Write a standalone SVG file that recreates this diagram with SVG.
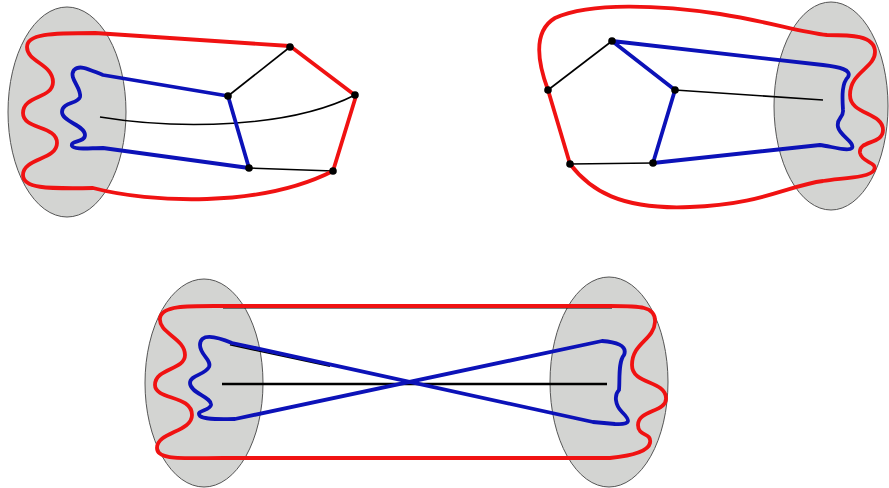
<svg xmlns="http://www.w3.org/2000/svg" width="889" height="488" viewBox="0 0 889 488">
<style>
.disk{fill:#d3d4d2;stroke:#555;stroke-width:1}
.red{fill:none;stroke:#f01212;stroke-width:3.8;stroke-linejoin:round;stroke-linecap:round}
.blue{fill:none;stroke:#0c12b8;stroke-width:3.8;stroke-linejoin:round;stroke-linecap:round}
.blk{fill:none;stroke:#000;stroke-width:1.6}
.blk2{fill:none;stroke:#000;stroke-width:2.6}
.dot{fill:#000}
</style>
<rect width="889" height="488" fill="#fff"/>
<g id="disk-top-left"><ellipse class="disk" cx="67" cy="112" rx="59" ry="105"/></g>
<g id="disk-top-right"><ellipse class="disk" cx="831" cy="106" rx="57" ry="104"/></g>
<g id="disk-bottom-left"><ellipse class="disk" cx="204" cy="383" rx="59" ry="104"/></g>
<g id="disk-bottom-right"><ellipse class="disk" cx="609" cy="382" rx="59" ry="105"/></g>
<g id="connectors">
  <!-- top-left panel -->
  <path class="blk" d="M228,96 L290,47"/>
  <path class="blk" d="M249,168 L333,171"/>
  <path class="blk" d="M100,117 C180,130 290,128 355,95"/>
  <path class="red" d="M290,46 L95,33 C50,33 27,34 27,47 C27,62 53,64 53,82 C53,99 23,95 23,113 C23,130 57,125 57,143 C57,160 23,158 23,175 C23,188 45,189 93,188 C150,203 260,208 333,171 L356,96 Z"/>
  <path class="blue" d="M228,96 L103,75 C90,70 80,64 74,70 C68,78 82,88 80,97 C78,104 62,102 62,112 C62,122 85,125 85,135 C85,143 70,140 72,146 C74,150 90,148 103,148 L249,168 Z"/>
  <!-- top-right panel -->
  <path class="blk" d="M612,41 L548,90"/>
  <path class="blk" d="M570,164 L653,163"/>
  <path class="blk" d="M675,90 L823,100"/>
  <path class="red" d="M827,35 C800,32 770,22 720,14 C660,5 590,2 555,18 C535,30 535,55 548,90 L570,164 C590,190 620,210 690,207 C760,205 790,185 823,181 C840,178 870,178 874,170 C878,162 862,163 860,153 C858,140 883,145 883,130 C883,112 850,115 850,95 C850,72 875,68 875,52 C875,35 850,35 827,35 Z"/>
  <path class="blue" d="M612,41 L823,65 C840,67 852,70 848,77 C842,83 842,95 843,110 C844,118 836,118 838,127 C840,136 855,142 852,148 C848,152 830,146 820,145 L653,163 L675,90 Z"/>
  <!-- bottom panel -->
  <path class="blk2" d="M222,384 L607,384"/>
  <path class="blk" d="M223,307.6 L612,307.6"/>
  <path class="blk" d="M230,344.8 L330,366.3"/>
  <path class="red" d="M223,306 C190,306 162,305 160,318 C158,333 185,338 185,355 C185,370 155,368 155,385 C155,400 192,395 192,415 C192,432 157,432 157,448 C157,460 180,458 223,458 L610,458 C630,456 648,452 650,443 C652,432 638,437 638,425 C638,410 667,412 666,398 C665,380 632,385 632,365 C632,343 654,340 655,322 C656,306 640,306 610,306 Z"/>
  <path class="blue" d="M232,343 C215,336 200,333 200,345 C200,355 212,360 209,367 C205,375 190,375 190,383 C190,393 212,397 211,405 C210,411 195,410 200,416 C205,420 220,419 235,419 L602,341 C615,342 628,345 624,355 C618,362 620,380 619,390 C614,395 615,405 622,412 C630,420 632,425 615,424 L593,422 Z"/>
</g>
<g id="dot-tl-1"><circle class="dot" cx="290" cy="47" r="3.8"/></g>
<g id="dot-tl-2"><circle class="dot" cx="228" cy="96" r="3.8"/></g>
<g id="dot-tl-3"><circle class="dot" cx="355" cy="95" r="3.8"/></g>
<g id="dot-tl-4"><circle class="dot" cx="249" cy="168" r="3.8"/></g>
<g id="dot-tl-5"><circle class="dot" cx="333" cy="171" r="3.8"/></g>
<g id="dot-tr-1"><circle class="dot" cx="612" cy="41" r="3.8"/></g>
<g id="dot-tr-2"><circle class="dot" cx="548" cy="90" r="3.8"/></g>
<g id="dot-tr-3"><circle class="dot" cx="675" cy="90" r="3.8"/></g>
<g id="dot-tr-4"><circle class="dot" cx="570" cy="164" r="3.8"/></g>
<g id="dot-tr-5"><circle class="dot" cx="653" cy="163" r="3.8"/></g>
</svg>
